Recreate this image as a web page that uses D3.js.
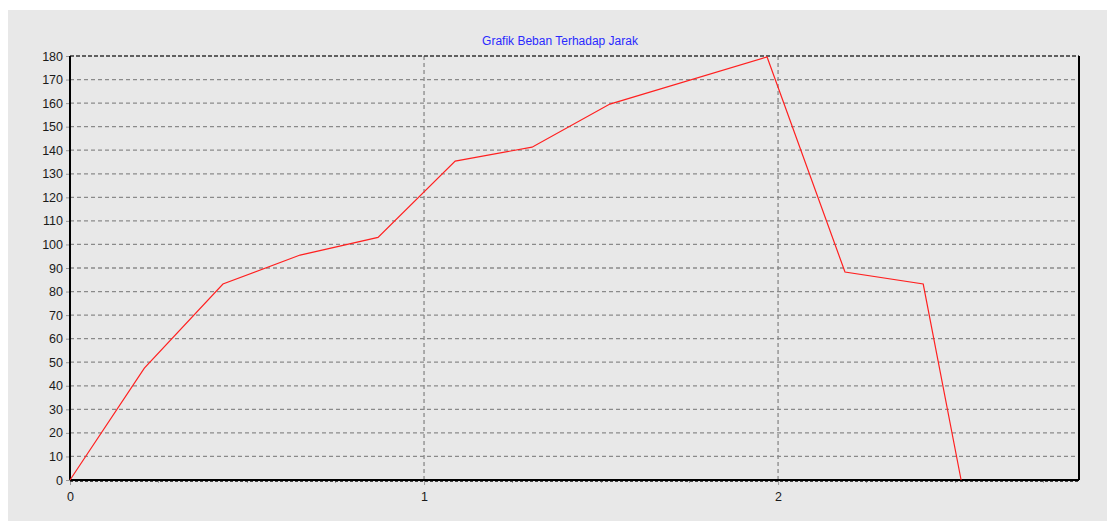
<!DOCTYPE html>
<html><head><meta charset="utf-8">
<script src="https://cdn.jsdelivr.net/npm/d3@7"></script>
<style>
html,body{margin:0;padding:0;background:#fff;}
svg{display:block;}
</style></head>
<body>
<svg id="c" width="1107" height="521"></svg>
<script>
const title = "Grafik Beban Terhadap Jarak";
const jarak = [0, 0.21, 0.432, 0.65, 0.87, 1.088, 1.305, 1.525, 1.969, 2.189, 2.41, 2.517];
const beban = [0, 47.5, 83.2, 95.5, 103, 135.4, 141.3, 159.6, 179.6, 88.3, 83.2, 0];
const yTicks = d3.range(0, 181, 10);
const xMajorTicks = [0, 1, 2];
const xMinorTicks = d3.range(0, 2.85, 0.25);

const svg = d3.select("#c");
const W = 1107, H = 521;
const m = {left: 70, right: 1079, top: 56, bottom: 480};

svg.append("rect").attr("x", 8).attr("y", 10).attr("width", W - 8).attr("height", H - 10).attr("fill", "#e8e8e8");

const x = d3.scaleLinear().domain([0, 2.85]).range([m.left, m.right]);
const y = d3.scaleLinear().domain([0, 180]).range([m.bottom, m.top]);

// horizontal grid
svg.append("g").selectAll("line").data(yTicks.filter(d => d > 0 && d < 180)).join("line")
  .attr("x1", m.left).attr("x2", m.right)
  .attr("y1", d => y(d)).attr("y2", d => y(d))
  .attr("stroke", "#8a8a8a").attr("stroke-width", 1.3).attr("stroke-dasharray", "4,3");
// vertical grid
svg.append("g").selectAll("line").data(xMajorTicks.filter(d => d > 0)).join("line")
  .attr("x1", d => x(d)).attr("x2", d => x(d))
  .attr("y1", m.top).attr("y2", m.bottom)
  .attr("stroke", "#8a8a8a").attr("stroke-width", 1.3).attr("stroke-dasharray", "4,3");

// top border dashed dark
svg.append("line").attr("x1", m.left).attr("x2", m.right).attr("y1", m.top).attr("y2", m.top)
  .attr("stroke", "#333").attr("stroke-width", 1.3).attr("stroke-dasharray", "4,2");
// right border
svg.append("line").attr("x1", m.right).attr("x2", m.right).attr("y1", m.top).attr("y2", m.bottom)
  .attr("stroke", "#000").attr("stroke-width", 1.5).attr("shape-rendering", "crispEdges");

// y axis
const yAxis = d3.axisLeft(y).tickValues(yTicks).tickSize(4).tickPadding(3).tickFormat(d3.format("d"));
const gy = svg.append("g").attr("transform", `translate(${m.left},0)`).call(yAxis);
gy.select(".domain").remove();
gy.selectAll(".tick line").attr("stroke", "#999");
gy.selectAll("text").attr("font-family", "Liberation Sans, Arial, sans-serif").attr("font-size", 12.5).attr("fill", "#1a1a1a");

// x axis major
const xAxis = d3.axisBottom(x).tickValues(xMajorTicks).tickSize(5).tickPadding(7).tickFormat(d3.format("d"));
const gx = svg.append("g").attr("transform", `translate(0,${m.bottom})`).call(xAxis);
gx.select(".domain").remove();
gx.selectAll(".tick line").attr("stroke", "#999");
gx.selectAll("text").attr("font-family", "Liberation Sans, Arial, sans-serif").attr("font-size", 12.5).attr("fill", "#1a1a1a");
// minor ticks
svg.append("g").selectAll("line").data(xMinorTicks.filter(d => xMajorTicks.indexOf(d) < 0)).join("line")
  .attr("x1", d => x(d)).attr("x2", d => x(d))
  .attr("y1", m.bottom).attr("y2", m.bottom + 3)
  .attr("stroke", "#999").attr("shape-rendering", "crispEdges");

// axis lines
svg.append("line").attr("x1", m.left).attr("x2", m.left).attr("y1", m.top).attr("y2", m.bottom)
  .attr("stroke", "#000").attr("stroke-width", 2);
svg.append("line").attr("x1", m.left).attr("x2", m.right).attr("y1", m.bottom).attr("y2", m.bottom)
  .attr("stroke", "#000").attr("stroke-width", 2);
svg.append("line").attr("x1", m.left).attr("x2", m.right).attr("y1", m.bottom + 1.5).attr("y2", m.bottom + 1.5)
  .attr("stroke", "#444").attr("stroke-dasharray", "3,2").attr("stroke-width", 1);

// data line
const line = d3.line().x((d, i) => x(jarak[i])).y(d => y(d));
svg.append("path").datum(beban).attr("d", line)
  .attr("fill", "none").attr("stroke", "#ff2020").attr("stroke-width", 1.2);

// title
svg.append("text").attr("x", 560).attr("y", 45).attr("text-anchor", "middle")
  .attr("font-family", "Liberation Sans, Arial, sans-serif").attr("font-size", 12)
  .attr("fill", "#2a2aff").text(title);
</script>
</body></html>
